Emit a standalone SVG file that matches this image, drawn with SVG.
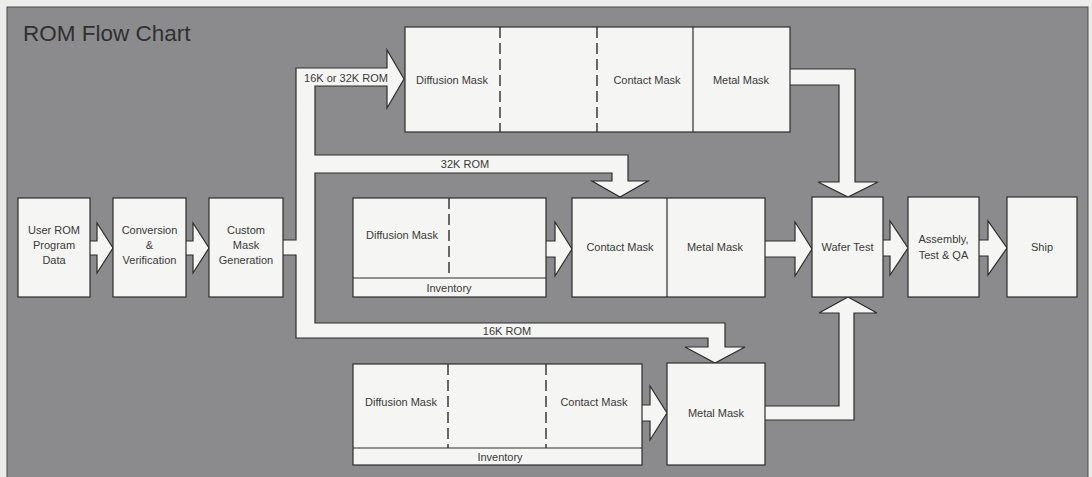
<svg xmlns="http://www.w3.org/2000/svg" width="1092" height="477" viewBox="0 0 1092 477">
  <style>
    .box { fill: #f5f5f3; stroke: #2e2e2e; stroke-width: 1.2; }
    .pipe { fill: #f5f5f3; stroke: #2e2e2e; stroke-width: 1.2; stroke-linejoin: miter; }
    .div { stroke: #2e2e2e; stroke-width: 1.2; fill: none; }
    .dash { stroke: #2e2e2e; stroke-width: 1.4; fill: none; stroke-dasharray: 11 5; }
    .lbl { font-family: "Liberation Sans", Arial, sans-serif; font-size: 11px; fill: #3a3a3a; text-anchor: middle; }
    .title { font-family: "Liberation Sans", Arial, sans-serif; font-size: 22.5px; fill: #303030; }
  </style>

  <!-- page and panel -->
  <rect x="0" y="0" width="1092" height="477" fill="#ececea"/>
  <rect x="7" y="7" width="1081" height="475" fill="#8b8b8d" stroke="#4a4a4a" stroke-width="1"/>
  <text class="title" x="23" y="41">ROM Flow Chart</text>

  <!-- connectors -->
  <g id="connectors">
    <!-- mask-generation bus splitting into the three ROM routes -->
    <path class="pipe" d="M283,240 L296,240 L296,68 L387,68 L387,50 L404,79 L387,108 L387,86 L315,86 L315,155 L628,155 L628,181 L648,181 L620,197 L592,181 L612,181 L612,173 L315,173 L315,323 L725,323 L725,347 L745,347 L715,363 L685,347 L708,347 L708,338 L296,338 L296,255 L283,255"/>
    <path class="pipe" d="M90,241 L97,241 L97,223 L113,248 L97,273 L97,255 L90,255"/>
    <path class="pipe" d="M186,241 L193,241 L193,223 L209,248 L193,273 L193,255 L186,255"/>
    <path class="pipe" d="M546,241 L555,241 L555,222 L572,249 L555,276 L555,257 L546,257"/>
    <path class="pipe" d="M765,241 L795,241 L795,222 L812,249 L795,276 L795,257 L765,257"/>
    <path class="pipe" d="M883,240 L890,240 L890,221 L908,248 L890,275 L890,256 L883,256"/>
    <path class="pipe" d="M979,240 L988,240 L988,221 L1007,248 L988,275 L988,256 L979,256"/>
    <path class="pipe" d="M790,69 L855,69 L855,182 L878,182 L848,197 L818,182 L839,182 L839,85 L790,85"/>
    <path class="pipe" d="M642,405 L650,405 L650,386 L667,413 L650,440 L650,421 L642,421"/>
    <path class="pipe" d="M765,420 L854,420 L854,313 L877,313 L848,297 L819,313 L839,313 L839,406 L765,406"/>
    <text class="lbl" x="346" y="82">16K or 32K ROM</text>
    <text class="lbl" x="465" y="168">32K ROM</text>
    <text class="lbl" x="507" y="335">16K ROM</text>
  </g>

  <g id="user-rom">
    <rect class="box" x="18" y="198" width="72" height="99"/>
    <text class="lbl" x="54" y="234">User ROM</text>
    <text class="lbl" x="54" y="249">Program</text>
    <text class="lbl" x="54" y="264">Data</text>
  </g>

  <g id="conversion">
    <rect class="box" x="113" y="198" width="73" height="99"/>
    <text class="lbl" x="149.5" y="234">Conversion</text>
    <text class="lbl" x="149.5" y="249">&amp;</text>
    <text class="lbl" x="149.5" y="264">Verification</text>
  </g>

  <g id="mask-generation">
    <rect class="box" x="209" y="198" width="74" height="99"/>
    <text class="lbl" x="246" y="234">Custom</text>
    <text class="lbl" x="246" y="249">Mask</text>
    <text class="lbl" x="246" y="264">Generation</text>
  </g>

  <g id="full-mask-set">
    <rect class="box" x="405" y="27" width="385" height="105"/>
    <line class="dash" x1="500" y1="27" x2="500" y2="132"/>
    <line class="dash" x1="597" y1="27" x2="597" y2="132"/>
    <line class="div" x1="693" y1="27" x2="693" y2="132"/>
    <text class="lbl" x="452" y="84">Diffusion Mask</text>
    <text class="lbl" x="647" y="84">Contact Mask</text>
    <text class="lbl" x="741" y="84">Metal Mask</text>
  </g>

  <g id="inventory-32k">
    <rect class="box" x="353" y="198" width="193" height="99"/>
    <line class="div" x1="353" y1="278" x2="546" y2="278"/>
    <line class="dash" x1="449" y1="198" x2="449" y2="278"/>
    <text class="lbl" x="402" y="239">Diffusion Mask</text>
    <text class="lbl" x="449" y="292">Inventory</text>
  </g>

  <g id="contact-metal">
    <rect class="box" x="572" y="198" width="193" height="99"/>
    <line class="div" x1="667" y1="198" x2="667" y2="297"/>
    <text class="lbl" x="620" y="251">Contact Mask</text>
    <text class="lbl" x="715" y="251">Metal Mask</text>
  </g>

  <g id="inventory-16k">
    <rect class="box" x="353" y="364" width="289" height="101"/>
    <line class="div" x1="353" y1="448" x2="642" y2="448"/>
    <line class="dash" x1="448" y1="364" x2="448" y2="448"/>
    <line class="dash" x1="546" y1="364" x2="546" y2="448"/>
    <text class="lbl" x="401" y="406">Diffusion Mask</text>
    <text class="lbl" x="594" y="406">Contact Mask</text>
    <text class="lbl" x="500" y="461">Inventory</text>
  </g>

  <g id="metal-mask">
    <rect class="box" x="667" y="363" width="98" height="102"/>
    <text class="lbl" x="716" y="417">Metal Mask</text>
  </g>

  <g id="wafer-test">
    <rect class="box" x="812" y="197" width="71" height="100"/>
    <text class="lbl" x="847.5" y="251">Wafer Test</text>
  </g>

  <g id="assembly">
    <rect class="box" x="908" y="197" width="71" height="100"/>
    <text class="lbl" x="943.5" y="243">Assembly,</text>
    <text class="lbl" x="943.5" y="259">Test &amp; QA</text>
  </g>

  <g id="ship">
    <rect class="box" x="1007" y="197" width="70" height="100"/>
    <text class="lbl" x="1042" y="251">Ship</text>
  </g>
</svg>
